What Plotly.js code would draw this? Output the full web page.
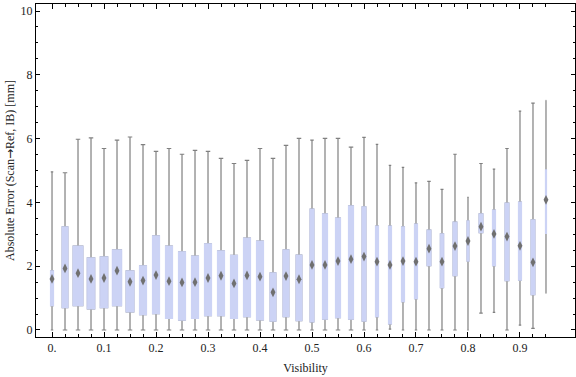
<!DOCTYPE html>
<html>
<head>
<meta charset="utf-8">
<script src="https://cdn.plot.ly/plotly-3.0.1.min.js"></script>
<style>html,body{margin:0;padding:0;background:#fff;}#chart{width:576px;height:377px;}</style>
</head>
<body>
<div id="chart"></div>
<script>
// ---- data ----
var visibility = [0, 0.025, 0.05, 0.075, 0.1, 0.125, 0.15, 0.175, 0.2, 0.225, 0.25, 0.275, 0.3, 0.325, 0.35, 0.375, 0.4, 0.425, 0.45, 0.475, 0.5, 0.525, 0.55, 0.575, 0.6, 0.625, 0.65, 0.675, 0.7, 0.725, 0.75, 0.775, 0.8, 0.825, 0.85, 0.875, 0.9, 0.925, 0.95];
var minVals = [0, 0, 0, 0, 0, 0, 0, 0, 0, 0, 0, 0, 0, 0, 0, 0, 0, 0, 0, 0, 0, 0, 0, 0, 0, 0, 0.03, 0, 0, 0, 0, 0, 0, 0.53, 0.55, 0, 0.15, 0.05, 1.15];
var q1Vals = [0.76, 0.70, 0.76, 0.66, 0.70, 0.76, 0.57, 0.48, 0.51, 0.36, 0.31, 0.36, 0.45, 0.45, 0.36, 0.42, 0.32, 0.28, 0.42, 0.29, 0.25, 0.34, 0.39, 0.34, 0.28, 0.42, 0.19, 0.89, 0.98, 2.02, 1.33, 1.70, 2.16, 3.05, 2.02, 1.55, 1.56, 1.11, 3.03];
var medianVals = [1.60, 1.93, 1.78, 1.60, 1.63, 1.86, 1.51, 1.55, 1.72, 1.53, 1.49, 1.50, 1.63, 1.70, 1.46, 1.71, 1.67, 1.18, 1.69, 1.59, 2.04, 2.04, 2.16, 2.22, 2.30, 2.14, 2.04, 2.16, 2.14, 2.55, 2.14, 2.63, 2.79, 3.24, 3.01, 2.93, 2.64, 2.12, 4.08];
var q3Vals = [1.85, 3.23, 2.63, 2.26, 2.29, 2.51, 1.85, 2.01, 2.95, 2.63, 2.45, 2.32, 2.70, 2.48, 2.34, 2.88, 2.79, 1.79, 2.51, 2.35, 3.79, 3.64, 3.51, 3.89, 3.86, 3.26, 3.26, 3.23, 3.32, 3.13, 3.01, 3.38, 3.42, 3.64, 3.76, 3.98, 4.01, 3.45, 5.02];
var maxVals = [4.96, 4.93, 5.98, 6.02, 5.69, 5.95, 6.05, 5.81, 5.60, 5.69, 5.51, 5.63, 5.60, 5.38, 5.22, 5.32, 5.69, 5.38, 5.79, 6.01, 5.95, 6.01, 6.01, 5.73, 6.04, 5.82, 5.16, 5.10, 4.61, 4.66, 4.41, 5.51, 4.16, 5.22, 5.04, 5.69, 6.86, 7.11, 7.20];
var xTickVals = [0, 0.1, 0.2, 0.3, 0.4, 0.5, 0.6, 0.7, 0.8, 0.9];
var xTickText = ["0.", "0.1", "0.2", "0.3", "0.4", "0.5", "0.6", "0.7", "0.8", "0.9"];
var xTitle = "Visibility";
var yTitle = "Absolute Error (Scan<span style=\"font-family:'DejaVu Sans'\">\u2192</span>Ref, IB) [mm]";

// ---- styling ----
var boxPx = [4, 7, 11, 8.7, 8.7, 10.3, 9, 8, 8, 8, 8, 8, 8, 8, 8, 8, 8, 7, 7, 7, 5, 6, 6, 6, 5, 4, 4, 4, 4, 5, 4.5, 5, 3, 5, 4, 5, 4, 5, 2];
var pxPerUnit = 520;
var capPx = 4.5;
var boxFill = "rgb(204,211,245)";
var whiskerColor = "rgb(128,128,128)";
var medianColor = "rgb(112,112,112)";
var font = "Liberation Serif, Times New Roman, serif";

var traces = [];
// whiskers (box outline hidden under the cover boxes below)
for (var i = 0; i < visibility.length; i++) {
  traces.push({
    type: "box", x: [visibility[i]],
    q1: [q1Vals[i]], median: [medianVals[i]], q3: [q3Vals[i]],
    lowerfence: [minVals[i]], upperfence: [maxVals[i]],
    width: Math.max(boxPx[i] - 1.5, 0.5) / pxPerUnit,
    whiskerwidth: Math.min(1, capPx / Math.max(boxPx[i] - 1.5, 0.5)),
    fillcolor: boxFill, line: {color: whiskerColor, width: 1.2},
    boxpoints: false, hoverinfo: "skip", showlegend: false
  });
}
// boxes without outline
for (var j = 0; j < visibility.length; j++) {
  traces.push({
    type: "box", x: [visibility[j]],
    q1: [q1Vals[j]], median: [q1Vals[j]], q3: [q3Vals[j]],
    lowerfence: [q1Vals[j]], upperfence: [q3Vals[j]],
    width: Math.max(boxPx[j] - 1, 0.5) / pxPerUnit, whiskerwidth: 0,
    fillcolor: boxFill, line: {color: boxFill, width: 1.2},
    boxpoints: false, hoverinfo: "skip", showlegend: false
  });
}
traces.push({
  type: "scatter", mode: "markers", x: visibility, y: medianVals,
  marker: {symbol: "diamond-tall", size: 7, color: medianColor, line: {width: 0}},
  hoverinfo: "skip", showlegend: false
});

var layout = {
  width: 576, height: 377,
  margin: {l: 36, r: 1, t: 4, b: 40, pad: 0},
  paper_bgcolor: "#fff", plot_bgcolor: "#fff",
  boxmode: "overlay",
  showlegend: false,
  font: {family: font, size: 12, color: "#222"},
  xaxis: {
    range: [-0.0308, 1.0058], showgrid: false, zeroline: false,
    showline: true, linecolor: "#000", linewidth: 1, mirror: "ticks",
    ticks: "inside", ticklen: 5, tickcolor: "#000", tickwidth: 1,
    tickmode: "array", tickvals: xTickVals, ticktext: xTickText,
    tickfont: {family: font, size: 12, color: "#222"},
    minor: {tickmode: "array", tickvals: visibility, ticks: "inside", ticklen: 3, tickcolor: "#000", showgrid: false},
    title: {text: xTitle, font: {family: font, size: 12, color: "#222"}, standoff: 9},
    automargin: false
  },
  yaxis: {
    range: [-0.22, 10.22], showgrid: false, zeroline: false,
    showline: true, linecolor: "#000", linewidth: 1, mirror: "ticks",
    ticks: "inside", ticklen: 4, tickcolor: "#000", tickwidth: 1,
    tickmode: "linear", tick0: 0, dtick: 2,
    tickfont: {family: font, size: 12, color: "#222"},
    minor: {dtick: 0.5, ticks: "inside", ticklen: 2, tickcolor: "#000", showgrid: false},
    title: {text: yTitle, font: {family: font, size: 12, color: "#222"}, standoff: 3},
    automargin: false
  }
};

Plotly.newPlot("chart", traces, layout, {displayModeBar: false, staticPlot: true});
</script>
</body>
</html>
